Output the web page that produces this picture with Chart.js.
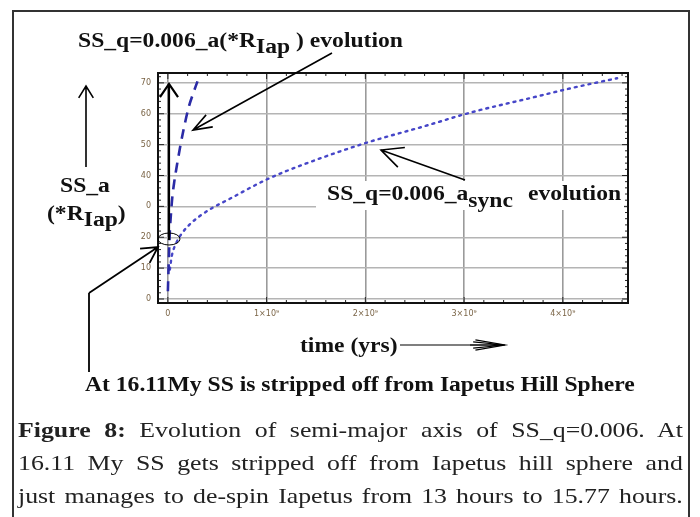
<!DOCTYPE html>
<html>
<head>
<meta charset="utf-8">
<script src="https://cdn.jsdelivr.net/npm/chart.js@4/dist/chart.umd.min.js"></script>
<style>
  html, body { margin: 0; padding: 0; background: #fff; }
  body { width: 700px; height: 517px; position: relative; overflow: hidden; }
  #frame { position: absolute; left: 12px; top: 10px; width: 674px; height: 520px; border: 2px solid #333; border-bottom: none; }
  #plot { position: absolute; left: 0; top: 0; }
  .lbl { position: absolute; font-family: 'Liberation Serif', 'Times New Roman', serif; font-weight: bold; font-size: 20px; color: #111; white-space: nowrap; line-height: 1; transform: scaleX(1.18); transform-origin: 0 0; }
  .lbl sub { font-size: 1em; vertical-align: -0.3em; }
  .cap { position: absolute; left: 18px; width: 554px; font-family: 'Liberation Serif', serif; font-size: 21.5px; color: #222; text-align: justify; text-align-last: justify; white-space: nowrap; line-height: 1; transform: scaleX(1.2); transform-origin: 0 0; }
  #mask { position: absolute; left: 316px; top: 181px; width: 308px; height: 29px; background: #fff; }
</style>
</head>
<body>
<div id="frame"></div>
<canvas id="plot" width="700" height="517"></canvas>
<div id="mask"></div>

<div class="lbl" style="left:78px; top:30px;">SS_q=0.006_a(*R<sub>Iap</sub> ) evolution</div>
<div class="lbl" style="left:60px; top:175px;">SS_a</div>
<div class="lbl" style="left:47px; top:203px;">(*R<sub>Iap</sub>)</div>
<div class="lbl" style="left:327px; top:183px;">SS_q=0.006_a<sub style="vertical-align:-0.35em">sync</sub></div>
<div class="lbl" style="left:528px; top:183px;">evolution</div>
<div class="lbl" style="left:300px; top:335px;">time (yrs)</div>
<div class="lbl" style="left:85px; top:374px;">At 16.11My SS is stripped off from Iapetus Hill Sphere</div>

<div class="cap" style="top:420px;"><b>Figure 8:</b> Evolution of semi-major axis of SS_q=0.006. At</div>
<div class="cap" style="top:453px;">16.11 My SS gets stripped off from Iapetus hill sphere and</div>
<div class="cap" style="top:486px;">just manages to de-spin Iapetus from 13 hours to 15.77 hours.</div>

<script>
// Axis ticks
const xTicks = [0, 1e9, 2e9, 3e9, 4e9];
const xTickLabels = ['0', '1\u00d710\u2079', '2\u00d710\u2079', '3\u00d710\u2079', '4\u00d710\u2079'];
const yTicks = [0, 10, 20, 30, 40, 50, 60, 70];
const yTickLabels = ['0', '10', '20', '0', '40', '50', '60', '70'];

// SS_q=0.006 a(*R_Iap) evolution (dashed)
const dashedTime = [0, 0.005e9, 0.01e9, 0.015e9, 0.02e9, 0.03e9, 0.045e9, 0.065e9, 0.09e9, 0.12e9, 0.16e9, 0.21e9, 0.25e9, 0.30e9];
const dashedA    = [2.5, 8, 13, 18, 22, 27, 33, 38, 43, 48.5, 55, 62, 66, 70.5];

// SS_q=0.006 a_sync evolution (dotted)
const dottedTime = [0.02e9, 0.04e9, 0.08e9, 0.15e9, 0.25e9, 0.32e9, 0.45e9, 0.6e9, 1.0e9, 1.41e9, 2.01e9, 2.58e9, 3.09e9, 3.66e9, 4.10e9, 4.55e9];
const dottedA    = [9.5, 14, 17.8, 21.6, 25, 26.8, 29.5, 32, 38.7, 44, 50.6, 55.8, 60.6, 65, 68.4, 71.5];

const toPts = (xs, ys) => xs.map((x, i) => ({ x: x, y: ys[i] }));

function arrow(ctx, x1, y1, x2, y2, len, spread) {
  const a = Math.atan2(y2 - y1, x2 - x1);
  ctx.beginPath();
  ctx.moveTo(x1, y1);
  ctx.lineTo(x2, y2);
  ctx.moveTo(x2 - len * Math.cos(a - spread), y2 - len * Math.sin(a - spread));
  ctx.lineTo(x2, y2);
  ctx.lineTo(x2 - len * Math.cos(a + spread), y2 - len * Math.sin(a + spread));
  ctx.stroke();
}

// frame, minor ticks and the hand-drawn arrows
const decor = {
  id: 'decor',
  afterDraw(chart) {
    const { ctx, chartArea: ca, scales: { x, y } } = chart;
    ctx.save();
    ctx.strokeStyle = '#222';
    ctx.lineWidth = 1;
    for (let v = 0; v <= 72; v += 2) {
      const py = y.getPixelForValue(v);
      const l = v % 10 === 0 ? 6 : 3;
      ctx.beginPath();
      ctx.moveTo(ca.left, py); ctx.lineTo(ca.left + l, py);
      ctx.moveTo(ca.right, py); ctx.lineTo(ca.right - l, py);
      ctx.stroke();
    }
    for (let v = 0; v <= 4.6e9; v += 0.2e9) {
      const px = x.getPixelForValue(v);
      const l = Math.abs(v / 1e9 - Math.round(v / 1e9)) < 1e-6 ? 6 : 3;
      ctx.beginPath();
      ctx.moveTo(px, ca.bottom); ctx.lineTo(px, ca.bottom - l);
      ctx.moveTo(px, ca.top); ctx.lineTo(px, ca.top + l);
      ctx.stroke();
    }
    ctx.lineWidth = 2;
    ctx.strokeStyle = '#111';
    ctx.strokeRect(ca.left, ca.top, ca.right - ca.left, ca.bottom - ca.top);

    ctx.lineWidth = 1.6;
    ctx.strokeStyle = '#000';
    // title arrow to dashed curve
    arrow(ctx, 332, 53, 193, 130, 20, 0.35);
    // sync label arrow
    arrow(ctx, 465, 180, 381, 150, 24, 0.45);
    // y axis arrow
    arrow(ctx, 86, 167, 86, 86, 14, 0.55);
    // time arrow
    ctx.lineWidth = 1.2;
    arrow(ctx, 400, 345, 505, 345, 30, 0.17);
    arrow(ctx, 470, 345, 505, 345, 32, 0.1);
    // big vertical arrow along t=0
    ctx.lineWidth = 2.2;
    arrow(ctx, 169, 240, 169, 84, 16, 0.6);
    // stripped-off pointer
    ctx.lineWidth = 1.8;
    ctx.beginPath();
    ctx.moveTo(89, 372); ctx.lineTo(89, 293);
    ctx.stroke();
    arrow(ctx, 89, 293, 158, 247, 18, 0.5);
    // ellipse at ~20
    ctx.lineWidth = 1;
    ctx.beginPath();
    ctx.ellipse(169, 239, 11, 6, 0, 0, Math.PI * 2);
    ctx.stroke();
    ctx.restore();
  }
};

new Chart(document.getElementById('plot'), {
  type: 'line',
  data: {
    datasets: [
      {
        label: 'a(*R_Iap)',
        data: toPts(dashedTime, dashedA),
        borderColor: '#2b2ba6',
        borderWidth: 2.6,
        borderDash: [10, 7],
        pointRadius: 0,
        cubicInterpolationMode: 'monotone',
        fill: false
      },
      {
        label: 'a_sync',
        data: toPts(dottedTime, dottedA),
        borderColor: '#4646c8',
        borderWidth: 2.4,
        borderDash: [2, 5],
        borderCapStyle: 'round',
        pointRadius: 0,
        cubicInterpolationMode: 'monotone',
        fill: false
      }
    ]
  },
  options: {
    responsive: false,
    animation: false,
    layout: { padding: { left: 130, top: 73, right: 72, bottom: 190 } },
    plugins: { legend: { display: false }, tooltip: { enabled: false } },
    scales: {
      x: {
        type: 'linear',
        min: -0.1e9,
        max: 4.66e9,
        afterBuildTicks: s => { s.ticks = xTicks.map(v => ({ value: v })); },
        afterFit: s => { s.height = 24; },
        grid: { color: '#9a9a9a', lineWidth: 1.6, drawTicks: false },
        border: { display: false },
        ticks: {
          padding: 6,
          maxRotation: 0,
          color: '#7a6446',
          font: { family: 'DejaVu Sans', size: 8 },
          callback: (v) => xTickLabels[xTicks.indexOf(v)]
        }
      },
      y: {
        min: -1.3,
        max: 73.2,
        afterBuildTicks: s => { s.ticks = yTicks.map(v => ({ value: v })); },
        afterFit: s => { s.width = 28; },
        grid: { color: '#b4b4b4', lineWidth: 1.4, drawTicks: false },
        border: { display: false },
        ticks: {
          padding: 7,
          color: '#7a6446',
          font: { family: 'DejaVu Sans', size: 8 },
          callback: (v) => yTickLabels[yTicks.indexOf(v)]
        }
      }
    }
  },
  plugins: [decor]
});
</script>
</body>
</html>
